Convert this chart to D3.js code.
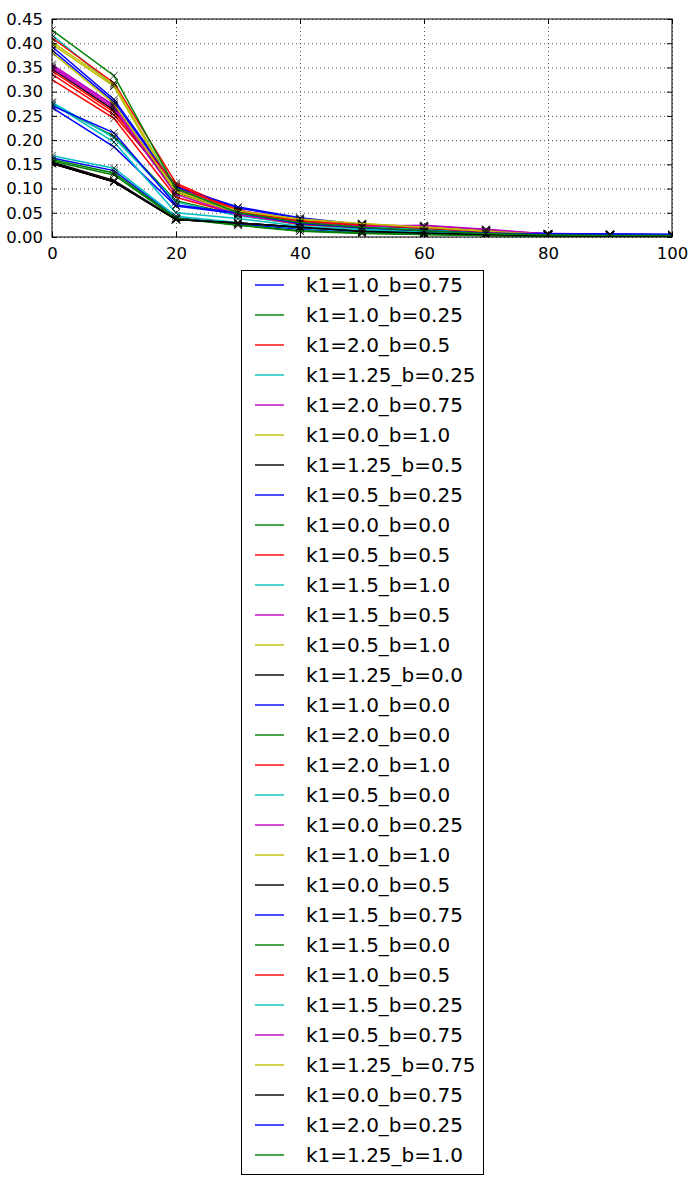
<!DOCTYPE html>
<html><head><meta charset="utf-8">
<script src="https://cdn.jsdelivr.net/npm/d3@7"></script>
<style>
body{margin:0;background:#fff;}
svg{display:block;font-family:"DejaVu Sans",sans-serif;}
</style></head>
<body>
<svg id="chart" width="698" height="1185"></svg>
<script>
const xValues = [0, 10, 20, 30, 40, 50, 60, 70, 80, 90, 100];
const yTicks = [0.00, 0.05, 0.10, 0.15, 0.20, 0.25, 0.30, 0.35, 0.40, 0.45];
const xTicks = [0, 20, 40, 60, 80, 100];
const colorCycle = ["#0000ff", "#008000", "#ff0000", "#00bfbf", "#bf00bf", "#bfbf00", "#000000"];

const labels = [
  "k1=1.0_b=0.75", "k1=1.0_b=0.25", "k1=2.0_b=0.5", "k1=1.25_b=0.25", "k1=2.0_b=0.75",
  "k1=0.0_b=1.0", "k1=1.25_b=0.5", "k1=0.5_b=0.25", "k1=0.0_b=0.0", "k1=0.5_b=0.5",
  "k1=1.5_b=1.0", "k1=1.5_b=0.5", "k1=0.5_b=1.0", "k1=1.25_b=0.0", "k1=1.0_b=0.0",
  "k1=2.0_b=0.0", "k1=2.0_b=1.0", "k1=0.5_b=0.0", "k1=0.0_b=0.25", "k1=1.0_b=1.0",
  "k1=0.0_b=0.5", "k1=1.5_b=0.75", "k1=1.5_b=0.0", "k1=1.0_b=0.5", "k1=1.5_b=0.25",
  "k1=0.5_b=0.75", "k1=1.25_b=0.75", "k1=0.0_b=0.75", "k1=2.0_b=0.25", "k1=1.25_b=1.0"
];

const values = [
  [0.393, 0.284, 0.105, 0.060, 0.038, 0.025, 0.018, 0.010, 0.007, 0.006, 0.005], // k1=1.0_b=0.75
  [0.273, 0.208, 0.075, 0.045, 0.027, 0.018, 0.012, 0.007, 0.005, 0.003, 0.002], // k1=1.0_b=0.25
  [0.336, 0.252, 0.102, 0.056, 0.029, 0.022, 0.020, 0.013, 0.005, 0.004, 0.003], // k1=2.0_b=0.5
  [0.278, 0.205, 0.072, 0.044, 0.026, 0.017, 0.012, 0.007, 0.004, 0.003, 0.002], // k1=1.25_b=0.25
  [0.356, 0.272, 0.098, 0.053, 0.033, 0.024, 0.023, 0.015, 0.006, 0.004, 0.003], // k1=2.0_b=0.75
  [0.152, 0.114, 0.036, 0.029, 0.020, 0.012, 0.008, 0.005, 0.003, 0.002, 0.002], // k1=0.0_b=1.0
  [0.347, 0.262, 0.092, 0.049, 0.030, 0.022, 0.017, 0.010, 0.005, 0.004, 0.003], // k1=1.25_b=0.5
  [0.267, 0.186, 0.064, 0.048, 0.030, 0.020, 0.013, 0.008, 0.005, 0.003, 0.002], // k1=0.5_b=0.25
  [0.152, 0.114, 0.036, 0.029, 0.020, 0.012, 0.008, 0.005, 0.003, 0.002, 0.002], // k1=0.0_b=0.0
  [0.325, 0.245, 0.082, 0.047, 0.026, 0.019, 0.016, 0.009, 0.004, 0.003, 0.003], // k1=0.5_b=0.5
  [0.417, 0.312, 0.098, 0.048, 0.031, 0.021, 0.015, 0.008, 0.004, 0.003, 0.003], // k1=1.5_b=1.0
  [0.352, 0.270, 0.096, 0.050, 0.032, 0.023, 0.022, 0.014, 0.005, 0.004, 0.003], // k1=1.5_b=0.5
  [0.398, 0.311, 0.090, 0.050, 0.034, 0.027, 0.021, 0.013, 0.005, 0.004, 0.003], // k1=0.5_b=1.0
  [0.155, 0.117, 0.037, 0.028, 0.019, 0.011, 0.007, 0.004, 0.003, 0.002, 0.002], // k1=1.25_b=0.0
  [0.163, 0.137, 0.040, 0.027, 0.016, 0.010, 0.006, 0.004, 0.003, 0.002, 0.001], // k1=1.0_b=0.0
  [0.157, 0.128, 0.038, 0.024, 0.012, 0.007, 0.005, 0.003, 0.002, 0.002, 0.001], // k1=2.0_b=0.0
  [0.411, 0.318, 0.111, 0.055, 0.035, 0.024, 0.019, 0.011, 0.005, 0.004, 0.003], // k1=2.0_b=1.0
  [0.168, 0.142, 0.043, 0.030, 0.018, 0.011, 0.007, 0.004, 0.003, 0.002, 0.001], // k1=0.5_b=0.0
  [0.152, 0.114, 0.036, 0.029, 0.020, 0.012, 0.008, 0.005, 0.003, 0.002, 0.002], // k1=0.0_b=0.25
  [0.403, 0.315, 0.095, 0.052, 0.036, 0.026, 0.020, 0.012, 0.005, 0.004, 0.003], // k1=1.0_b=1.0
  [0.152, 0.114, 0.036, 0.029, 0.020, 0.012, 0.008, 0.005, 0.003, 0.002, 0.002], // k1=0.0_b=0.5
  [0.386, 0.279, 0.103, 0.062, 0.040, 0.026, 0.019, 0.011, 0.007, 0.006, 0.005], // k1=1.5_b=0.75
  [0.160, 0.132, 0.039, 0.025, 0.013, 0.008, 0.005, 0.003, 0.002, 0.002, 0.001], // k1=1.5_b=0.0
  [0.343, 0.258, 0.108, 0.052, 0.033, 0.025, 0.019, 0.011, 0.005, 0.004, 0.003], // k1=1.0_b=0.5
  [0.276, 0.196, 0.050, 0.038, 0.022, 0.015, 0.010, 0.006, 0.004, 0.003, 0.002], // k1=1.5_b=0.25
  [0.349, 0.266, 0.088, 0.046, 0.028, 0.021, 0.024, 0.016, 0.006, 0.004, 0.003], // k1=0.5_b=0.75
  [0.381, 0.275, 0.093, 0.054, 0.037, 0.028, 0.020, 0.012, 0.005, 0.004, 0.003], // k1=1.25_b=0.75
  [0.152, 0.114, 0.036, 0.029, 0.020, 0.012, 0.008, 0.005, 0.003, 0.002, 0.002], // k1=0.0_b=0.75
  [0.271, 0.215, 0.066, 0.050, 0.028, 0.019, 0.013, 0.008, 0.006, 0.005, 0.005], // k1=2.0_b=0.25
  [0.427, 0.333, 0.100, 0.050, 0.030, 0.020, 0.013, 0.007, 0.004, 0.003, 0.003]  // k1=1.25_b=1.0
];

const svg = d3.select("#chart");
const L = 52, R = 672, T = 19, B = 237;
const x = d3.scaleLinear().domain([0, 100]).range([L, R]);
const y = d3.scaleLinear().domain([0, 0.45]).range([B, T]);

svg.append("defs").append("clipPath").attr("id", "clip")
  .append("rect").attr("x", L).attr("y", T).attr("width", R - L).attr("height", B - T);

// grid
const grid = svg.append("g");
grid.selectAll(".gx").data(xTicks).join("line")
  .attr("x1", d => x(d) + 0.5).attr("x2", d => x(d) + 0.5).attr("y1", T).attr("y2", B)
  .attr("stroke", "#000").attr("stroke-width", 0.7).attr("stroke-dasharray", "1,3");
grid.selectAll(".gy").data(yTicks).join("line")
  .attr("y1", d => y(d) + 0.5).attr("y2", d => y(d) + 0.5).attr("x1", L).attr("x2", R)
  .attr("stroke", "#000").attr("stroke-width", 0.7).attr("stroke-dasharray", "1,3");

// series
const plot = svg.append("g").attr("clip-path", "url(#clip)");
const line = d3.line().x((d, i) => x(xValues[i])).y(d => y(d));
const ms = 3.8;
values.forEach((vals, si) => {
  const g = plot.append("g");
  g.append("path").attr("d", line(vals)).attr("fill", "none")
    .attr("stroke", colorCycle[si % 7]).attr("stroke-width", 1.5);
  g.selectAll("path.m").data(vals).join("path").attr("class", "m")
    .attr("d", (d, i) => {
      const cx = x(xValues[i]), cy = y(d);
      return `M${cx - ms},${cy - ms}L${cx + ms},${cy + ms}M${cx - ms},${cy + ms}L${cx + ms},${cy - ms}`;
    })
    .attr("stroke", "#000").attr("stroke-width", 0.8).attr("fill", "none");
});

// axes
const xAxisB = d3.axisBottom(x).tickValues(xTicks).tickSize(-5).tickPadding(10).tickFormat(d3.format("d"));
const xAxisT = d3.axisTop(x).tickValues(xTicks).tickSize(-5).tickFormat("");
const yAxisL = d3.axisLeft(y).tickValues(yTicks).tickSize(-5).tickPadding(9).tickFormat(d3.format(".2f"));
const yAxisR = d3.axisRight(y).tickValues(yTicks).tickSize(-5).tickFormat("");
function style(g) {
  g.select(".domain").remove();
  g.selectAll("line").attr("stroke", "#000").attr("stroke-width", 1);
  g.selectAll("text").attr("fill", "#000").style("font-size", "16.5px").style("font-family", "DejaVu Sans");
}
svg.append("g").attr("transform", `translate(0,${B})`).call(xAxisB).call(style);
svg.append("g").attr("transform", `translate(0,${T})`).call(xAxisT).call(style);
svg.append("g").attr("transform", `translate(${L},0)`).call(yAxisL).call(style);
svg.append("g").attr("transform", `translate(${R},0)`).call(yAxisR).call(style);
svg.append("rect").attr("x", L).attr("y", T).attr("width", R - L).attr("height", B - T)
  .attr("fill", "none").attr("stroke", "#000").attr("stroke-width", 1);

// legend
const lg = svg.append("g");
const LX = 241.5, LY = 270.5, LW = 242, LH = 904, rowH = 30, firstRow = 285;
lg.append("rect").attr("x", LX).attr("y", LY).attr("width", LW).attr("height", LH)
  .attr("fill", "#fff").attr("stroke", "#000").attr("stroke-width", 1);
const rows = lg.selectAll("g.row").data(labels).join("g").attr("class", "row")
  .attr("transform", (d, i) => `translate(0,${firstRow + i * rowH})`);
rows.append("line").attr("x1", 255).attr("x2", 284).attr("y1", 0).attr("y2", 0)
  .attr("stroke", (d, i) => colorCycle[i % 7]).attr("stroke-width", 1.4);
rows.append("text").attr("x", 306).attr("y", 0).attr("dy", "0.36em")
  .style("font-size", "20px").attr("fill", "#000").text(d => d);
</script>
</body></html>
